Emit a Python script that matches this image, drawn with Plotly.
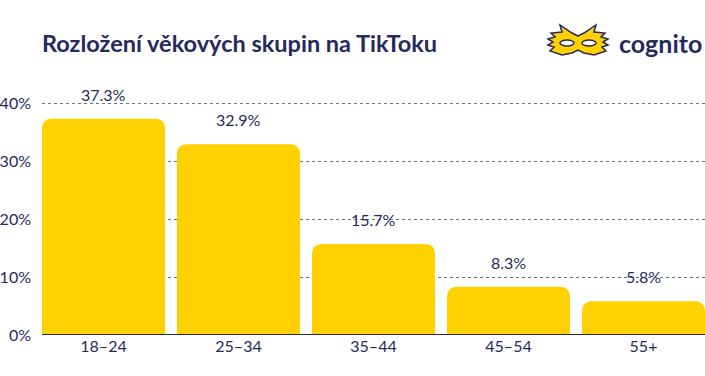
import plotly.graph_objects as go

categories = ["18–24", "25–34", "35–44", "45–54", "55+"]
values = [37.3, 32.9, 15.7, 8.3, 5.8]
value_labels = ["37.3%", "32.9%", "15.7%", "8.3%", "5.8%"]
y_ticks = [0, 10, 20, 30, 40]
y_tick_labels = ["0%", "10%", "20%", "30%", "40%"]

NAVY = "#252a5e"
YELLOW = "#ffd100"
FONT = "Lato"

W, H = 705, 376
L, R, T, B = 42, 0, 80, 41
pw, ph = W - L - R, H - T - B


def px2paper(x, y):
    return (x - L) / pw, (H - B - y) / ph


def path(points):
    s = ""
    for i, (x, y) in enumerate(points):
        a, b = px2paper(x, y)
        s += ("M" if i == 0 else "L") + f"{a:.5f},{b:.5f} "
    return s + "Z"


fig = go.Figure()
fig.add_trace(go.Bar(
    x=categories, y=values, marker=dict(color=YELLOW, line=dict(width=0)),
    hoverinfo="skip",
))

for c, v, t in zip(categories, values, value_labels):
    fig.add_annotation(x=c, y=v, text=t, showarrow=False, yanchor="bottom", yshift=13,
                       font=dict(family=FONT, size=16, color=NAVY))

ymax = 40 * ph / (335 - 103)

# mask logo
mask = [(578, 36), (572, 33), (560, 25), (562, 32), (551, 33), (555, 37), (548, 39), (553, 42),
        (548, 45), (554, 47), (550, 51), (562, 55), (572, 53), (578, 50),
        (584, 53), (594, 55), (606, 51), (602, 47), (608, 45), (603, 42), (608, 39),
        (601, 37), (605, 33), (594, 32), (596, 25), (584, 33)]
fig.add_shape(type="path", xref="paper", yref="paper", path=path(mask),
              fillcolor=YELLOW, line=dict(color=NAVY, width=1.5))
for cx in (567, 589):
    x0, y0 = px2paper(cx - 7, 46)
    x1, y1 = px2paper(cx + 7, 40)
    fig.add_shape(type="circle", xref="paper", yref="paper", x0=x0, y0=y0, x1=x1, y1=y1,
                  fillcolor="white", line=dict(color=NAVY, width=1.5))

fig.add_annotation(xref="paper", yref="paper", x=px2paper(704, 0)[0], y=px2paper(0, 43)[1],
                   text="<b>cognito</b>", showarrow=False, xanchor="right", yanchor="middle",
                   font=dict(family=FONT, size=25, color=NAVY))

fig.update_layout(
    width=W, height=H,
    margin=dict(l=L, r=R, t=T, b=B, pad=0, autoexpand=False),
    paper_bgcolor="white", plot_bgcolor="white",
    bargap=0.089,
    showlegend=False,
    title=dict(text="<b>Rozložení věkových skupin na TikToku</b>", x=42 / W, xanchor="left",
               y=1 - 44 / H, yanchor="middle",
               font=dict(family=FONT, size=23.5, color=NAVY)),
    font=dict(family=FONT, size=15, color=NAVY),
    barcornerradius=9,
    xaxis=dict(range=[-0.4556, 4.4556], showgrid=False, zeroline=False, showline=False,
               ticks="", automargin=False,
               tickfont=dict(family=FONT, size=16, color=NAVY), fixedrange=True),
    yaxis=dict(range=[0, ymax], tickvals=y_ticks, ticktext=y_tick_labels,
               showgrid=True, gridcolor="#6b6f8f", griddash="dot", gridwidth=1,
               zeroline=False, showline=False, ticks="", ticklabelstandoff=10, automargin=False,
               tickfont=dict(family=FONT, size=16, color=NAVY), fixedrange=True),
)
fig.add_shape(type="line", xref="paper", yref="y", x0=0, x1=1, y0=0, y1=0,
              line=dict(color=NAVY, width=2), layer="above")

fig.write_html("out.html", config={"displayModeBar": False},
               post_script="document.body.style.margin='0';document.body.style.padding='0';")
